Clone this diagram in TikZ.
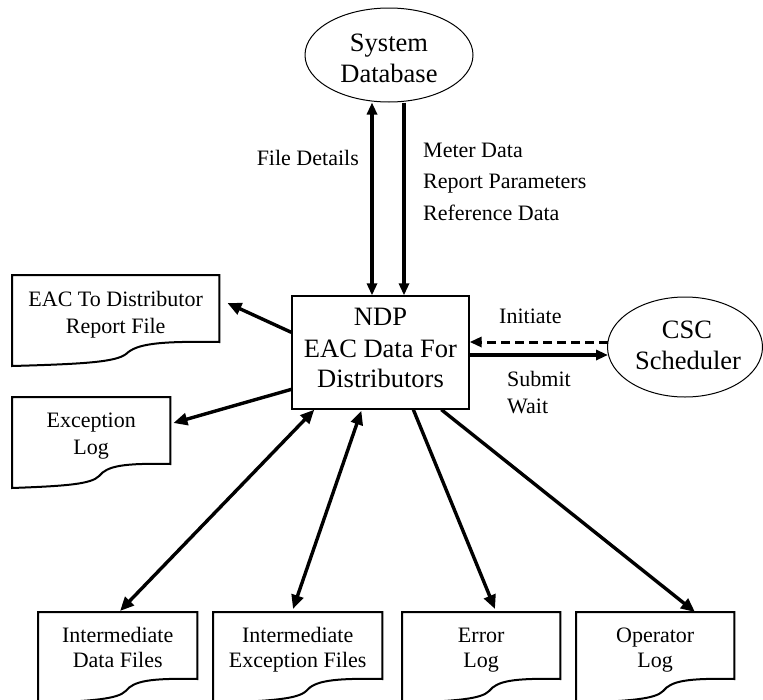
\documentclass[tikz,border=0pt]{standalone}
\usepackage{fontspec}
\setmainfont{Liberation Serif}
\usetikzlibrary{arrows.meta,calc,shapes.geometric}
\begin{document}
\begin{tikzpicture}[x=1pt,y=-1pt,
  bigfont/.style={font=\fontsize{26.5}{31}\selectfont},
  smallfont/.style={font=\fontsize{22}{27.5}\selectfont},
  procbox/.style={draw,line width=1.3pt,minimum width=177pt,minimum height=113pt,inner sep=0pt},
  oval/.style={draw,ellipse,line width=1pt,inner sep=0pt},
  docnode/.style={anchor=north west,minimum height=72pt,inner sep=0pt},
  docline/.style={line width=2pt,line join=miter},
  bigtxt/.style={inner sep=0pt,anchor=base,bigfont},
  smalltxt/.style={inner sep=0pt,anchor=base,smallfont},
  tip/.style={Triangle[length=14pt,width=12pt]},
  flow/.style={line width=3.4pt,-{Triangle[length=14pt,width=12pt]}},
  bflow/.style={line width=3.4pt,{Triangle[length=14pt,width=12pt]}-{Triangle[length=14pt,width=12pt]}},
  vflow/.style={line width=3.2pt,-{Triangle[length=12pt,width=10pt]}},
  bvflow/.style={line width=3.2pt,{Triangle[length=12pt,width=10pt]}-{Triangle[length=12pt,width=10pt]}}]
\useasboundingbox (0,0) rectangle (763,699);
\clip (0,0) rectangle (763,699);

% main shapes
\node[oval,minimum width=168pt,minimum height=94pt] (db) at (389,55) {};
\node[procbox] (box) at (380.5,352.5) {};
\node[oval,minimum width=155pt,minimum height=100pt] (csc) at (685,347) {};

\node[bigtxt] (db1) at (389,51.5) {System};
\node[bigtxt] (db2) at (389,82) {Database};
\node[bigtxt] (bx1) at (380.5,325) {NDP};
\node[bigtxt] (bx2) at (380.5,357) {EAC Data For};
\node[bigtxt] (bx3) at (380.5,387) {Distributors};
\node[bigtxt] (cs1) at (687,338) {CSC};
\node[bigtxt] (cs2) at (688,369) {Scheduler};

% document nodes
\node[docnode,minimum width=207pt] (eac) at (12,275) {};
\node[docnode,minimum width=158pt] (exc) at (12,397) {};
\node[docnode,minimum width=159pt] (idf) at (38,612) {};
\node[docnode,minimum width=169pt] (ief) at (213,612) {};
\node[docnode,minimum width=158pt] (err) at (402,612) {};
\node[docnode,minimum width=158pt] (opl) at (576,612) {};

\foreach \n in {eac,exc,idf,ief,err,opl}{
  \draw[docline] (\n.north west) -- (\n.north east)
    -- ($(\n.north east)+(0,67)$)
    .. controls ($(\n.north west)!0.7!(\n.north east)+(0,66)$) and ($(\n.north west)!0.6!(\n.north east)+(0,69)$)
    .. ($(\n.north west)!0.55!(\n.north east)+(0,79)$)
    .. controls ($(\n.north west)!0.5!(\n.north east)+(0,87)$) and ($(\n.north west)!0.35!(\n.north east)+(0,89)$)
    .. ($(\n.north west)+(0,91)$) -- cycle;
}

\node[smalltxt] (eac1) at ($(eac.north)+(0,31)$) {EAC To Distributor};
\node[smalltxt] (eac2) at ($(eac.north)+(0,58)$) {Report File};
\node[smalltxt] (exc1) at ($(exc.north)+(0,30)$) {Exception};
\node[smalltxt] (exc2) at ($(exc.north)+(0,57)$) {Log};
\node[smalltxt] (idf1) at ($(idf.north)+(0,30)$) {Intermediate};
\node[smalltxt] (idf2) at ($(idf.north)+(0,55)$) {Data Files};
\node[smalltxt] (ief1) at ($(ief.north)+(0,30)$) {Intermediate};
\node[smalltxt] (ief2) at ($(ief.north)+(0,55)$) {Exception Files};
\node[smalltxt] (err1) at ($(err.north)+(0,30)$) {Error};
\node[smalltxt] (err2) at ($(err.north)+(0,55)$) {Log};
\node[smalltxt] (opl1) at ($(opl.north)+(0,30)$) {Operator};
\node[smalltxt] (opl2) at ($(opl.north)+(0,55)$) {Log};

% database connectors
\coordinate (fdtop) at ($(db.south)+(-17,0)$);
\coordinate (mdtop) at ($(db.south)+(15,0)$);
\draw[bvflow] (fdtop) -- (fdtop |- box.north);
\draw[vflow] (mdtop) -- (mdtop |- box.north);
\node[smalltxt,anchor=base east] (fdl) at (359,165) {File Details};
\node[smalltxt,anchor=base west] (mdl) at (423,157) {Meter Data};
\node[smalltxt,anchor=base west] (rpl) at (423,188.5) {Report Parameters};
\node[smalltxt,anchor=base west] (rdl) at (423,220) {Reference Data};

% scheduler connectors
\coordinate (inis) at ($(csc.west)+(1,-5)$);
\coordinate (subs) at ($(csc.west)+(1,8)$);
\draw[line width=3pt,dash pattern=on 9pt off 5pt,-{Triangle[length=12pt,width=10pt]}] (inis) -- (box.east |- inis);
\draw[vflow] (box.east |- subs) -- (subs);
\node[smalltxt,anchor=base west] (inil) at (499,323) {Initiate};
\node[smalltxt,anchor=base west] (subl) at (507,386) {Submit};
\node[smalltxt,anchor=base west] (waitl) at (507,413) {Wait};

% outputs to documents
\draw[flow] ($(box.north west)+(0,37)$) -- ($(eac.north east)+(8,28)$);
\draw[flow] ($(box.north west)+(0,94)$) -- ($(exc.north east)+(3,26)$);
\draw[bflow] ($(box.south west)+(23,0)$) -- ($(idf.north west)+(82,-1)$);
\draw[bflow] ($(box.south west)+(70,1)$) -- ($(ief.north west)+(80,-3)$);
\draw[flow] ($(box.south west)+(122,0)$) -- ($(err.north west)+(93,-3)$);
\draw[flow] ($(box.south west)+(150,0)$) -- ($(opl.north west)+(119,0)$);
\end{tikzpicture}
\end{document}
